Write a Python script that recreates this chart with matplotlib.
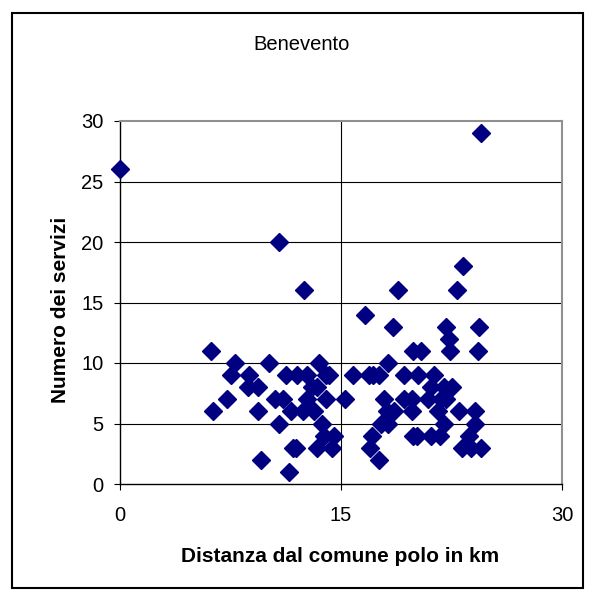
import matplotlib.pyplot as plt
from matplotlib.patches import Rectangle

plt.rcParams['font.family'] = ['Liberation Sans', 'DejaVu Sans']

# distanza dal comune polo (km) e numero dei servizi
distanza = [0, 10.8, 12.5, 18.9, 22.9, 23.3, 24.5,
            6.2, 7.8, 10.1, 13.5, 7.5, 8.75, 8.7, 9.4, 11.3, 12.0, 12.7, 14.0, 14.2,
            13.0, 13.4, 7.25, 6.3, 9.4, 10.55, 11.05, 12.66, 14.0, 15.3, 11.6, 12.4,
            13.2, 10.8, 13.7, 13.85, 14.55, 11.75, 11.95, 13.35, 14.4, 9.6, 11.45,
            16.6, 18.5, 22.1, 24.4, 22.3, 19.9, 20.4, 22.4, 24.3, 18.2, 15.8, 16.9,
            17.2, 17.6, 19.3, 20.2, 21.3, 21.1, 22.0, 22.55, 17.9, 19.25, 19.8, 20.9,
            21.8, 22.1, 18.1, 18.6, 19.8, 21.55, 23.0, 24.1, 17.7, 18.2, 22.0, 24.1,
            17.1, 19.9, 20.15, 21.1, 21.7, 23.7, 16.95, 23.2, 23.8, 24.5, 17.6]
servizi = [26, 20, 16, 16, 16, 18, 29,
           11, 10, 10, 10, 9, 9, 8, 8, 9, 9, 9, 9, 9,
           8, 8, 7, 6, 6, 7, 7, 7, 7, 7, 6, 6,
           6, 5, 5, 4, 4, 3, 3, 3, 3, 2, 1,
           14, 13, 13, 13, 12, 11, 11, 11, 11, 10, 9, 9,
           9, 9, 9, 9, 9, 8, 8, 8, 7, 7, 7, 7,
           7, 7, 6, 6, 6, 6, 6, 6, 5, 5, 5, 5,
           4, 4, 4, 4, 4, 4, 3, 3, 3, 3, 2]

x_ticks = [0, 15, 30]
y_ticks = [0, 5, 10, 15, 20, 25, 30]

fig = plt.figure(figsize=(5.95, 5.98), dpi=100)
ax = fig.add_axes([120 / 595, 1 - 484 / 598, 442 / 595, 363 / 598])

# griglia
for v in y_ticks[1:-1]:
    ax.axhline(v, color='black', lw=0.8, zorder=1)
ax.axvline(15, color='black', lw=0.8, zorder=1)

ax.plot(distanza, servizi, 'D', color='#000080', ms=9.3, mec='#000080', zorder=3, clip_on=False)

ax.set_xlim(0, 30)
ax.set_ylim(0, 30)
ax.set_xticks(x_ticks)
ax.set_yticks(y_ticks)
ax.tick_params(direction='out', length=4, width=0.8, labelsize=14.5)
ax.tick_params(axis='x', pad=12)
ax.tick_params(axis='y', pad=8)

for s in ['top', 'right']:
    ax.spines[s].set_color('#909090')
    ax.spines[s].set_linewidth(1.5)
for s in ['left', 'bottom']:
    ax.spines[s].set_color('black')
    ax.spines[s].set_linewidth(1.0)

fig.text(0.507, 1 - 45 / 598, 'Benevento', ha='center', va='center', fontsize=14.5)
fig.text(340 / 595, 1 - 557 / 598, 'Distanza dal comune polo in km', ha='center', va='center',
         fontsize=15, fontweight='bold')
fig.text(60 / 595, 1 - 310 / 598, 'Numero dei servizi', ha='center', va='center',
         rotation=90, fontsize=15, fontweight='bold')

# cornice esterna
fig.patches.append(Rectangle((12 / 595, 1 - 588 / 598), 571 / 595, 575 / 598,
                             transform=fig.transFigure, fill=False, ec='black', lw=1.5))

fig.savefig('out.png', dpi=100)
